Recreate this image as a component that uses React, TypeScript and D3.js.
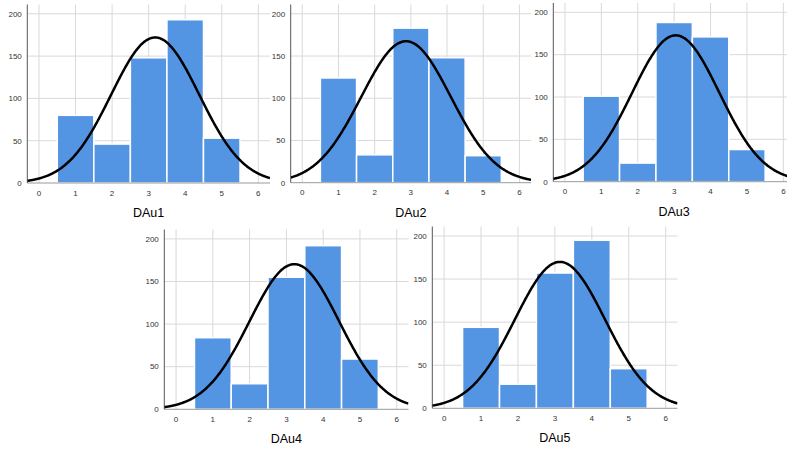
import React from "react";
import * as d3 from "d3";

const categories = [1, 2, 3, 4, 5];
const xTicks = [0, 1, 2, 3, 4, 5, 6];
const yTicks = [0, 50, 100, 150, 200];
const titles = ["DAu1", "DAu2", "DAu3", "DAu4", "DAu5"];
const dau1 = [80, 46, 148, 193, 53];
const dau2 = [124, 33, 183, 148, 32];
const dau3 = [101, 22, 188, 171, 38];
const dau4 = [84, 30, 155, 192, 59];
const dau5 = [94, 28, 157, 195, 46];
const seriesList = [dau1, dau2, dau3, dau4, dau5];

const panels = [
  { left: 27.3, right: 270, top: 4.5, bottom: 183 },
  { left: 290.7, right: 531, top: 4.5, bottom: 182.7 },
  { left: 553.3, right: 795, top: 3, bottom: 181.7 },
  { left: 164.3, right: 408.5, top: 229.5, bottom: 409.3 },
  { left: 432.3, right: 677.5, top: 226.5, bottom: 408.3 },
];

const BAR = "#5495e3";
const GRID = "#d9d9d9";
const FONT = "'Liberation Sans', Arial, sans-serif";

function Panel({ idx }: { idx: number }) {
  const p = panels[idx];
  const vals = seriesList[idx];
  const x = d3.scaleLinear().domain([-0.32, 6.32]).range([p.left, p.right]);
  const y = d3.scaleLinear().domain([0, 211]).range([p.bottom, p.top]);
  const n = d3.sum(vals);
  const mean = d3.sum(vals.map((v, i) => v * categories[i])) / n;
  const variance =
    d3.sum(vals.map((v, i) => v * (categories[i] - mean) ** 2)) / (n - 1);
  const sd = Math.sqrt(variance);
  const pts = d3.range(-0.32, 6.33, 0.02).map((t) => [
    t,
    (n / (sd * Math.sqrt(2 * Math.PI))) * Math.exp(-0.5 * ((t - mean) / sd) ** 2),
  ]);
  const line = d3
    .line<number[]>()
    .x((d) => x(d[0]))
    .y((d) => y(d[1]))
    .curve(d3.curveBasis);
  const clipId = `clip${idx}`;
  return (
    <g>
      <defs>
        <clipPath id={clipId}>
          <rect x={p.left} y={p.top} width={p.right - p.left} height={p.bottom - p.top} />
        </clipPath>
      </defs>
      {yTicks.slice(1).map((t) => (
        <line key={"h" + t} x1={p.left} x2={p.right} y1={y(t)} y2={y(t)} stroke={GRID} strokeWidth={1} />
      ))}
      {xTicks.map((t) => (
        <line key={"v" + t} x1={x(t)} x2={x(t)} y1={p.top} y2={p.bottom} stroke={GRID} strokeWidth={1} />
      ))}
      {categories.map((c, i) => (
        <rect
          key={c}
          x={x(c - 0.5)}
          y={y(vals[i])}
          width={x(c + 0.5) - x(c - 0.5)}
          height={y(0) - y(vals[i])}
          fill={BAR}
          stroke="#ffffff"
          strokeWidth={1.5}
        />
      ))}
      <line x1={p.left} x2={p.right} y1={p.bottom} y2={p.bottom} stroke="#9a9a9a" strokeWidth={1} />
      <line x1={p.left} x2={p.left} y1={p.top} y2={p.bottom} stroke="#555" strokeWidth={1} />
      <path d={line(pts) || ""} fill="none" stroke="#000" strokeWidth={2.5} clipPath={`url(#${clipId})`} />
      {yTicks.map((t) => (
        <text key={"yl" + t} x={p.left - 5.5} y={y(t)} dy="0.35em" textAnchor="end" fontSize={8} fill="#333" fontFamily={FONT}>
          {t}
        </text>
      ))}
      {xTicks.map((t) => (
        <text key={"xl" + t} x={x(t)} y={p.bottom + 12.5} textAnchor="middle" fontSize={8} fill="#333" fontFamily={FONT}>
          {t}
        </text>
      ))}
      <text x={x(3)} y={p.bottom + 34} textAnchor="middle" fontSize={12.5} fill="#000" fontFamily={FONT}>
        {titles[idx]}
      </text>
    </g>
  );
}

export default function App() {
  return (
    <svg
      width={787}
      height={450}
      style={{ position: "absolute", left: 0, top: 0, background: "#fff" }}
    >
      <rect width={787} height={450} fill="#fff" />
      {panels.map((_, i) => (
        <Panel key={i} idx={i} />
      ))}
    </svg>
  );
}
